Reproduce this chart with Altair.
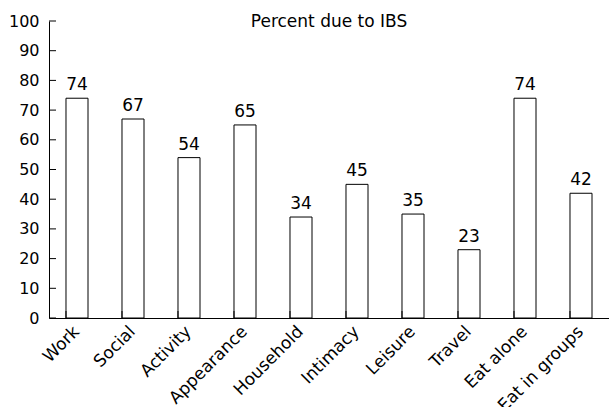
import altair as alt
import pandas as pd

# Share of each impairment domain attributed to IBS
categories = ["Work", "Social", "Activity", "Appearance", "Household",
              "Intimacy", "Leisure", "Travel", "Eat alone", "Eat in groups"]
percent = [74, 67, 54, 65, 34, 45, 35, 23, 74, 42]
y_ticks = [0, 10, 20, 30, 40, 50, 60, 70, 80, 90, 100]
heading = ["Percent due to IBS"]

df = pd.DataFrame({"domain": categories, "pct": percent})
ticks_df = pd.DataFrame({"v": y_ticks})
head_df = pd.DataFrame({"t": heading})

FONT = "DejaVu Sans"
W, H = 560, 297

x_scale = alt.Scale(domain=categories, paddingInner=0.607, paddingOuter=0.3035)
y_scale = alt.Scale(domain=[0, 100], nice=False)

# one axis definition shared by every layer so the merged axes agree
x_axis = alt.Axis(title=None, labelAngle=-45, labelFontSize=17,
                  labelFont=FONT, labelColor="#000", ticks=False,
                  domainColor="#000", labelPadding=5, labelOffset=-6)
y_axis = alt.Axis(title=None, values=y_ticks, ticks=False,
                  labelOverlap=False, labelFontSize=16,
                  labelFont=FONT, labelColor="#000",
                  domainColor="#000", labelPadding=10, grid=False)

bars = alt.Chart(df).mark_bar(fill="white", stroke="#000", strokeWidth=1).encode(
    x=alt.X("domain:N", scale=x_scale, sort=categories, axis=x_axis),
    y=alt.Y("pct:Q", scale=y_scale, axis=y_axis))

labels = alt.Chart(df).mark_text(baseline="bottom", dy=-4, fontSize=17,
                                 font=FONT, color="#000").encode(
    x=alt.X("domain:N", scale=x_scale, sort=categories, axis=x_axis),
    y=alt.Y("pct:Q", scale=y_scale, axis=y_axis),
    text="pct:Q")

# inward-pointing ticks at the band boundaries
x_ticks = alt.Chart(df).mark_rule(color="#000", strokeWidth=1).encode(
    x=alt.X("domain:N", scale=x_scale, sort=categories, bandPosition=0,
            axis=x_axis),
    y=alt.value(H), y2=alt.value(H - 7))

# inward-pointing ticks on the value axis
y_tick_marks = alt.Chart(ticks_df).mark_rule(color="#000", strokeWidth=1).encode(
    y=alt.Y("v:Q", scale=y_scale, axis=y_axis), x=alt.value(0), x2=alt.value(7))

# heading drawn inside the top of the plot area
title = alt.Chart(head_df).mark_text(fontSize=17, font=FONT, color="#000",
                                     baseline="alphabetic", align="center").encode(
    text="t:N", x=alt.value(W / 2), y=alt.value(6))

chart = alt.layer(bars, labels, x_ticks, y_tick_marks, title).properties(
    width=W, height=H,
    padding={"left": 49, "top": 21, "right": 0, "bottom": 89},
    autosize=alt.AutoSizeParams(type="none"),
).configure_view(stroke=None).configure_axis(domainWidth=1)

chart.save("out.html", embed_options={"renderer": "svg", "actions": False})
